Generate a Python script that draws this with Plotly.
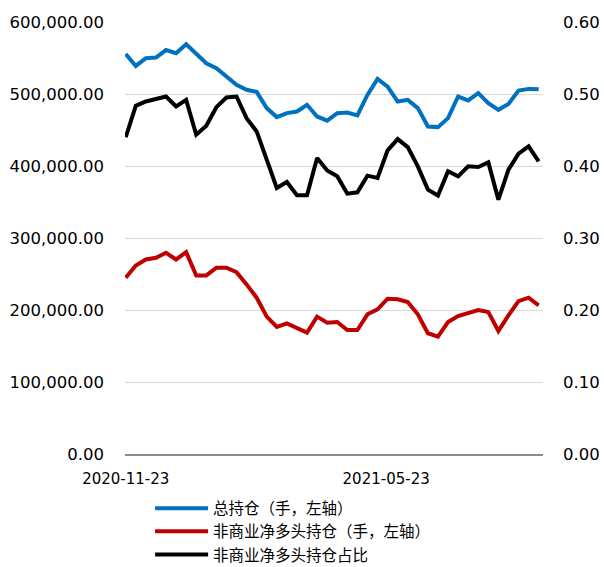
import pandas as pd
import plotly.graph_objects as go

# Weekly observations starting 2020-11-23
dates = pd.date_range("2020-11-23", periods=42, freq="7D")

# 总持仓 (contracts)
total_oi = [
    555600, 539000, 549700, 550600, 561000, 556600, 569000, 556600, 542700, 535800,
    524200, 512700, 505800, 503000, 480400, 467900, 473400, 475700, 485000, 468800,
    463000, 473400, 474300, 470200, 498800, 521000, 510300, 489500, 491900, 480400,
    454900, 454000, 466500, 496500, 491000, 501200, 487300, 478000, 486300, 504800,
    507100, 506700,
]

# 非商业净多头持仓 (contracts)
net_long = [
    244800, 261900, 270200, 272500, 279400, 270200, 280300, 248000, 248000, 258700,
    258700, 252600, 235600, 217100, 190800, 176400, 181500, 174600, 168600, 190800,
    182400, 183300, 172200, 172200, 194000, 200900, 215700, 214800, 211000, 194000,
    167700, 163100, 183300, 191600, 196300, 200000, 197200, 170900, 192600, 212400,
    217100, 206500,
]

# 非商业净多头持仓占比
net_long_share = [
    0.440, 0.4836, 0.4896, 0.4933, 0.4965, 0.4826, 0.4919, 0.4434, 0.4559, 0.4817,
    0.4951, 0.4965, 0.4665, 0.4480, 0.4088, 0.3695, 0.3778, 0.3593, 0.3593, 0.4111,
    0.3938, 0.3857, 0.3616, 0.3635, 0.3866, 0.3834, 0.4217, 0.4374, 0.4263, 0.3995,
    0.3672, 0.3589, 0.3926, 0.3857, 0.3995, 0.3986, 0.4050, 0.3533, 0.3949, 0.4171,
    0.4272, 0.4064,
]

series_names = ["总持仓（手，左轴）", "非商业净多头持仓（手，左轴）", "非商业净多头持仓占比"]
x_tick_labels = ["2020-11-23", "2021-05-23"]

fig = go.Figure()
fig.add_trace(go.Scatter(x=dates, y=total_oi, name=series_names[0], mode="lines",
                         line=dict(color="#0070C0", width=4)))
fig.add_trace(go.Scatter(x=dates, y=net_long, name=series_names[1], mode="lines",
                         line=dict(color="#C00000", width=4)))
fig.add_trace(go.Scatter(x=dates, y=net_long_share, name=series_names[2], mode="lines",
                         line=dict(color="#000000", width=4), yaxis="y2"))

tick_font = dict(family="DejaVu Sans", size=16.5, color="#000000")

fig.update_layout(
    width=604, height=567,
    margin=dict(l=125, r=61, t=22, b=113, autoexpand=False),
    paper_bgcolor="white", plot_bgcolor="white",
    showlegend=True,
    legend=dict(
        x=0.06, xanchor="left", y=-0.087, yanchor="top",
        orientation="v", itemwidth=53,
        font=dict(family="Noto Sans CJK SC", size=15.5, color="#000000"),
        bgcolor="rgba(0,0,0,0)", tracegroupgap=0,
    ),
    xaxis=dict(
        type="date",
        range=[pd.Timestamp("2020-11-22 12:00"), pd.Timestamp("2021-09-09")],
        tickvals=[pd.Timestamp(t) for t in x_tick_labels],
        ticktext=x_tick_labels,
        showgrid=False, zeroline=False,
        showline=True, linecolor="#8c8c8c", linewidth=1.5,
        ticks="", ticklabelstandoff=10,
        tickfont=dict(family="DejaVu Sans", size=15, color="#000000"),
    ),
    yaxis=dict(
        range=[0, 600000], dtick=100000, tickformat=",.2f",
        showgrid=True, gridcolor="#d9d9d9", gridwidth=1,
        zeroline=False, showline=False, ticks="",
        ticklabelstandoff=20, tickfont=tick_font,
    ),
    yaxis2=dict(
        range=[0, 0.6], dtick=0.1, tickformat=".2f",
        overlaying="y", side="right",
        showgrid=False, zeroline=False, showline=False, ticks="",
        ticklabelstandoff=19, tickfont=tick_font,
    ),
)

fig.write_html("out.html")
